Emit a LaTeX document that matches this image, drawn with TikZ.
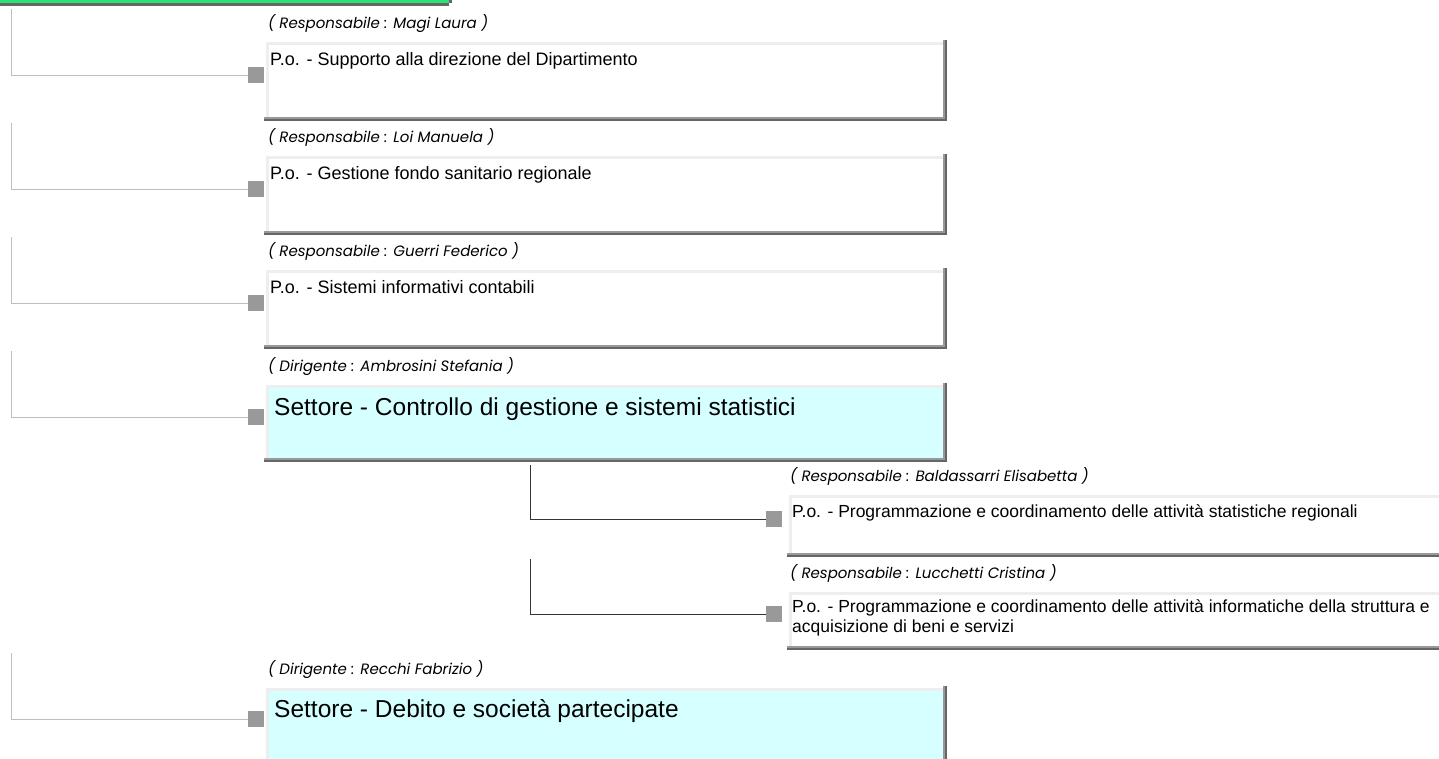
\documentclass[tikz,border=0pt]{standalone}
\usepackage{fontspec}
\setmainfont{Liberation Sans}
\newfontfamily\respfont{Poppins}
\usetikzlibrary{positioning}

\definecolor{setcyan}{RGB}{214,255,255}
\definecolor{edgelight}{RGB}{238,238,238}
\definecolor{shadowmid}{RGB}{153,153,153}
\definecolor{shadowdark}{RGB}{102,102,102}
\definecolor{headgreen}{RGB}{46,224,122}
\definecolor{linklight}{RGB}{190,190,190}
\definecolor{linkdark}{RGB}{51,51,51}

\newcommand{\potext}{\fontsize{18}{20}\selectfont}
\newcommand{\subtext}{\fontsize{17.5}{20}\selectfont}
\newcommand{\settext}{\fontsize{24.5}{28}\selectfont}
\newcommand{\resptext}{\respfont\itshape\fontsize{15}{18}\selectfont}

% edges of an office box: light top and left, shadow right and bottom
\newcommand{\boxedges}[1]{%
  \draw[line width=3pt,edgelight] ([xshift=1.5pt]#1.south west) -- ([xshift=1.5pt,yshift=-1.5pt]#1.north west) -- ([yshift=-1.5pt]#1.north east);
  \draw[line width=2pt,shadowmid] ([xshift=-1pt,yshift=2pt]#1.north east) -- ([xshift=-1pt,yshift=1pt]#1.south east) -- ([xshift=-2pt,yshift=1pt]#1.south west);
  \draw[line width=2pt,shadowdark] ([xshift=1pt,yshift=2pt]#1.north east) -- ([xshift=1pt,yshift=-1pt]#1.south east) -- ([xshift=-2pt,yshift=-1pt]#1.south west);
}

\tikzset{
  unitbox/.style={anchor=north west,inner sep=0pt,outer sep=0pt},
  pobox/.style={unitbox,fill=white,minimum width=679pt,minimum height=77pt},
  setbox/.style={unitbox,fill=setcyan,minimum width=679pt,minimum height=75pt},
  subbox/.style={unitbox,fill=white,minimum width=700pt,minimum height=60pt},
  potitle/.style={anchor=base west,inner sep=0pt,font=\potext},
  subtitle/.style={anchor=base west,inner sep=0pt,font=\subtext},
  settitle/.style={anchor=base west,inner sep=0pt,font=\settext},
  resp/.style={anchor=base west,inner sep=0pt,font=\resptext},
  knob/.style={fill=shadowmid,minimum size=16pt,inner sep=0pt},
  toplink/.style={draw=linklight,line width=1pt},
  sublink/.style={draw=linkdark,line width=1pt}
}

\begin{document}
\begin{tikzpicture}[x=1pt,y=-1pt]
  \useasboundingbox (0,0) rectangle (1439,758);
  \clip (0,0) rectangle (1439,758);

  % head of the tree, mostly off the page
  \node[unitbox,anchor=south west,fill=headgreen,minimum width=449pt,minimum height=20pt] (head) at (0,3) {};
  \fill[shadowdark] (head.south west) rectangle ([yshift=-3pt]head.south east);
  \fill[shadowdark] (head.south east) rectangle ([xshift=3pt,yshift=-3pt]head.north east);

  % P.o. boxes
  \node[resp] (r1) at (268,28) {( Responsabile : Magi Laura )};
  \node[pobox] (po1) at (266,42) {};
  \boxedges{po1}
  \node[potitle] (po1t) at (270,65) {P.o. - Supporto alla direzione del Dipartimento};
  \node[knob] (k1) at (256,75) {};
  \coordinate (c1) at (11,9);
  \draw[toplink] (c1) |- (k1.west);

  \node[resp] (r2) at (268,142) {( Responsabile : Loi Manuela )};
  \node[pobox] (po2) at (266,156) {};
  \boxedges{po2}
  \node[potitle] (po2t) at (270,179) {P.o. - Gestione fondo sanitario regionale};
  \node[knob] (k2) at (256,189) {};
  \coordinate (c2) at (11,123);
  \draw[toplink] (c2) |- (k2.west);

  \node[resp] (r3) at (268,256) {( Responsabile : Guerri Federico )};
  \node[pobox] (po3) at (266,270) {};
  \boxedges{po3}
  \node[potitle] (po3t) at (270,293) {P.o. - Sistemi informativi contabili};
  \node[knob] (k3) at (256,303) {};
  \coordinate (c3) at (11,237);
  \draw[toplink] (c3) |- (k3.west);

  % Settore boxes
  \node[resp] (r4) at (268,371) {( Dirigente : Ambrosini Stefania )};
  \node[setbox] (set1) at (266,385) {};
  \boxedges{set1}
  \node[settitle] (set1t) at (274,415) {Settore - Controllo di gestione e sistemi statistici};
  \node[knob] (k4) at (256,417) {};
  \coordinate (c4) at (11,351);
  \draw[toplink] (c4) |- (k4.west);

  \node[resp] (r5) at (790,481) {( Responsabile : Baldassarri Elisabetta )};
  \node[subbox] (sub1) at (789,495) {};
  \boxedges{sub1}
  \node[subtitle] (sub1t) at (792,517) {P.o. - Programmazione e coordinamento delle attività statistiche regionali};
  \node[knob] (k5) at (774,519) {};
  \coordinate (c5) at (530,465);
  \draw[sublink] (c5) |- (k5.west);

  \node[resp] (r6) at (790,578) {( Responsabile : Lucchetti Cristina )};
  \node[subbox,minimum height=56pt] (sub2) at (789,592) {};
  \boxedges{sub2}
  \node[subtitle,align=left] (sub2t) at (792,632) {P.o. - Programmazione e coordinamento delle attività informatiche della struttura e\\acquisizione di beni e servizi};
  \node[knob] (k6) at (774,614) {};
  \coordinate (c6) at (530,559);
  \draw[sublink] (c6) |- (k6.west);

  \node[resp] (r7) at (268,674) {( Dirigente : Recchi Fabrizio )};
  \node[setbox,minimum height=100pt] (set2) at (266,688) {};
  \boxedges{set2}
  \node[settitle] (set2t) at (274,717) {Settore - Debito e società partecipate};
  \node[knob] (k7) at (256,719) {};
  \coordinate (c7) at (11,653);
  \draw[toplink] (c7) |- (k7.west);
\end{tikzpicture}
\end{document}
